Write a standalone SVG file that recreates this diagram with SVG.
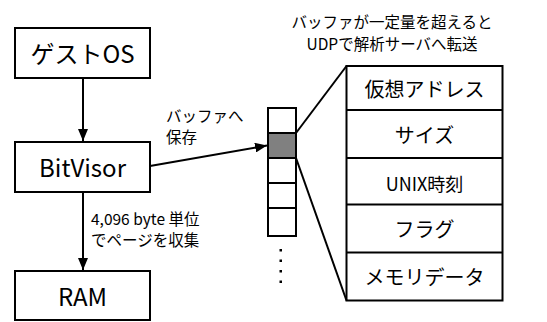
<svg xmlns="http://www.w3.org/2000/svg" width="547" height="322" viewBox="0 0 547 322">
<defs>
<style>
text{font-family:"Noto Sans CJK JP","Noto Sans",sans-serif;fill:#000}
.box{fill:#fff;stroke:#000;stroke-width:2}
.ln{stroke:#000;stroke-width:2;fill:none}
.big{font-size:24px;text-anchor:middle;dominant-baseline:central}
.row{font-size:20px;text-anchor:middle;dominant-baseline:central}
.note{font-size:15.5px}
</style>
<marker id="ah" markerWidth="12" markerHeight="10" refX="12" refY="5" orient="auto" markerUnits="userSpaceOnUse">
<path d="M0,0 L12,5 L0,10 z" fill="#000"/>
</marker>
</defs>
<rect width="547" height="322" fill="#fff"/>
<g id="guest">
<rect class="box" x="15" y="28" width="135" height="50"/>
<text class="big" x="82.5" y="52">ゲストOS</text>
</g>
<g id="bitvisor">
<rect class="box" x="15" y="142" width="135" height="50"/>
<text class="big" x="82.5" y="166">BitVisor</text>
</g>
<g id="ram">
<rect class="box" x="15" y="271" width="135" height="49"/>
<text class="big" x="82.5" y="295">RAM</text>
</g>
<g id="buffer">
<rect class="box" x="268" y="108" width="28" height="25"/>
<rect x="268" y="133" width="28" height="25" fill="#808080" stroke="#000" stroke-width="2"/>
<rect class="box" x="268" y="158" width="28" height="25"/>
<rect class="box" x="268" y="183" width="28" height="25"/>
<rect class="box" x="268" y="208" width="28" height="28"/>
<g fill="#000">
<rect x="279.5" y="249" width="2.5" height="2.5"/>
<rect x="279.5" y="259.5" width="2.5" height="2.5"/>
<rect x="279.5" y="270" width="2.5" height="2.5"/>
<rect x="279.5" y="280.5" width="2.5" height="2.5"/>
</g>
</g>
<g id="record">
<rect class="box" x="346.5" y="66" width="156" height="234.5"/>
<line class="ln" x1="346.5" y1="110" x2="502.5" y2="110"/>
<line class="ln" x1="346.5" y1="158" x2="502.5" y2="158"/>
<line class="ln" x1="346.5" y1="204.5" x2="502.5" y2="204.5"/>
<line class="ln" x1="346.5" y1="252.5" x2="502.5" y2="252.5"/>
<text class="row" x="424.5" y="88">仮想アドレス</text>
<text class="row" x="424.5" y="134">サイズ</text>
<text class="row" x="424.5" y="183" style="font-size:18px">UNIX時刻</text>
<text class="row" x="424.5" y="228.5">フラグ</text>
<text class="row" x="424.5" y="276.5">メモリデータ</text>
</g>
<g id="connectors">
<line class="ln" x1="83" y1="78" x2="83" y2="141" marker-end="url(#ah)"/>
<line class="ln" x1="83" y1="192" x2="83" y2="270" marker-end="url(#ah)"/>
<line class="ln" x1="150" y1="166" x2="267" y2="145.5" marker-end="url(#ah)"/>
<line class="ln" x1="296" y1="133" x2="346.5" y2="66"/>
<line class="ln" x1="296" y1="158" x2="346.5" y2="300.5"/>
</g>
<g id="labels">
<text class="note" x="166" y="122">バッファへ</text>
<text class="note" x="166" y="143">保存</text>
<text class="note" x="91" y="225">4,096 byte 単位</text>
<text class="note" x="91" y="246">でページを収集</text>
<text class="note" x="392" y="28" text-anchor="middle">バッファが一定量を超えると</text>
<text class="note" x="392" y="50" text-anchor="middle">UDPで解析サーバへ転送</text>
</g>
</svg>
